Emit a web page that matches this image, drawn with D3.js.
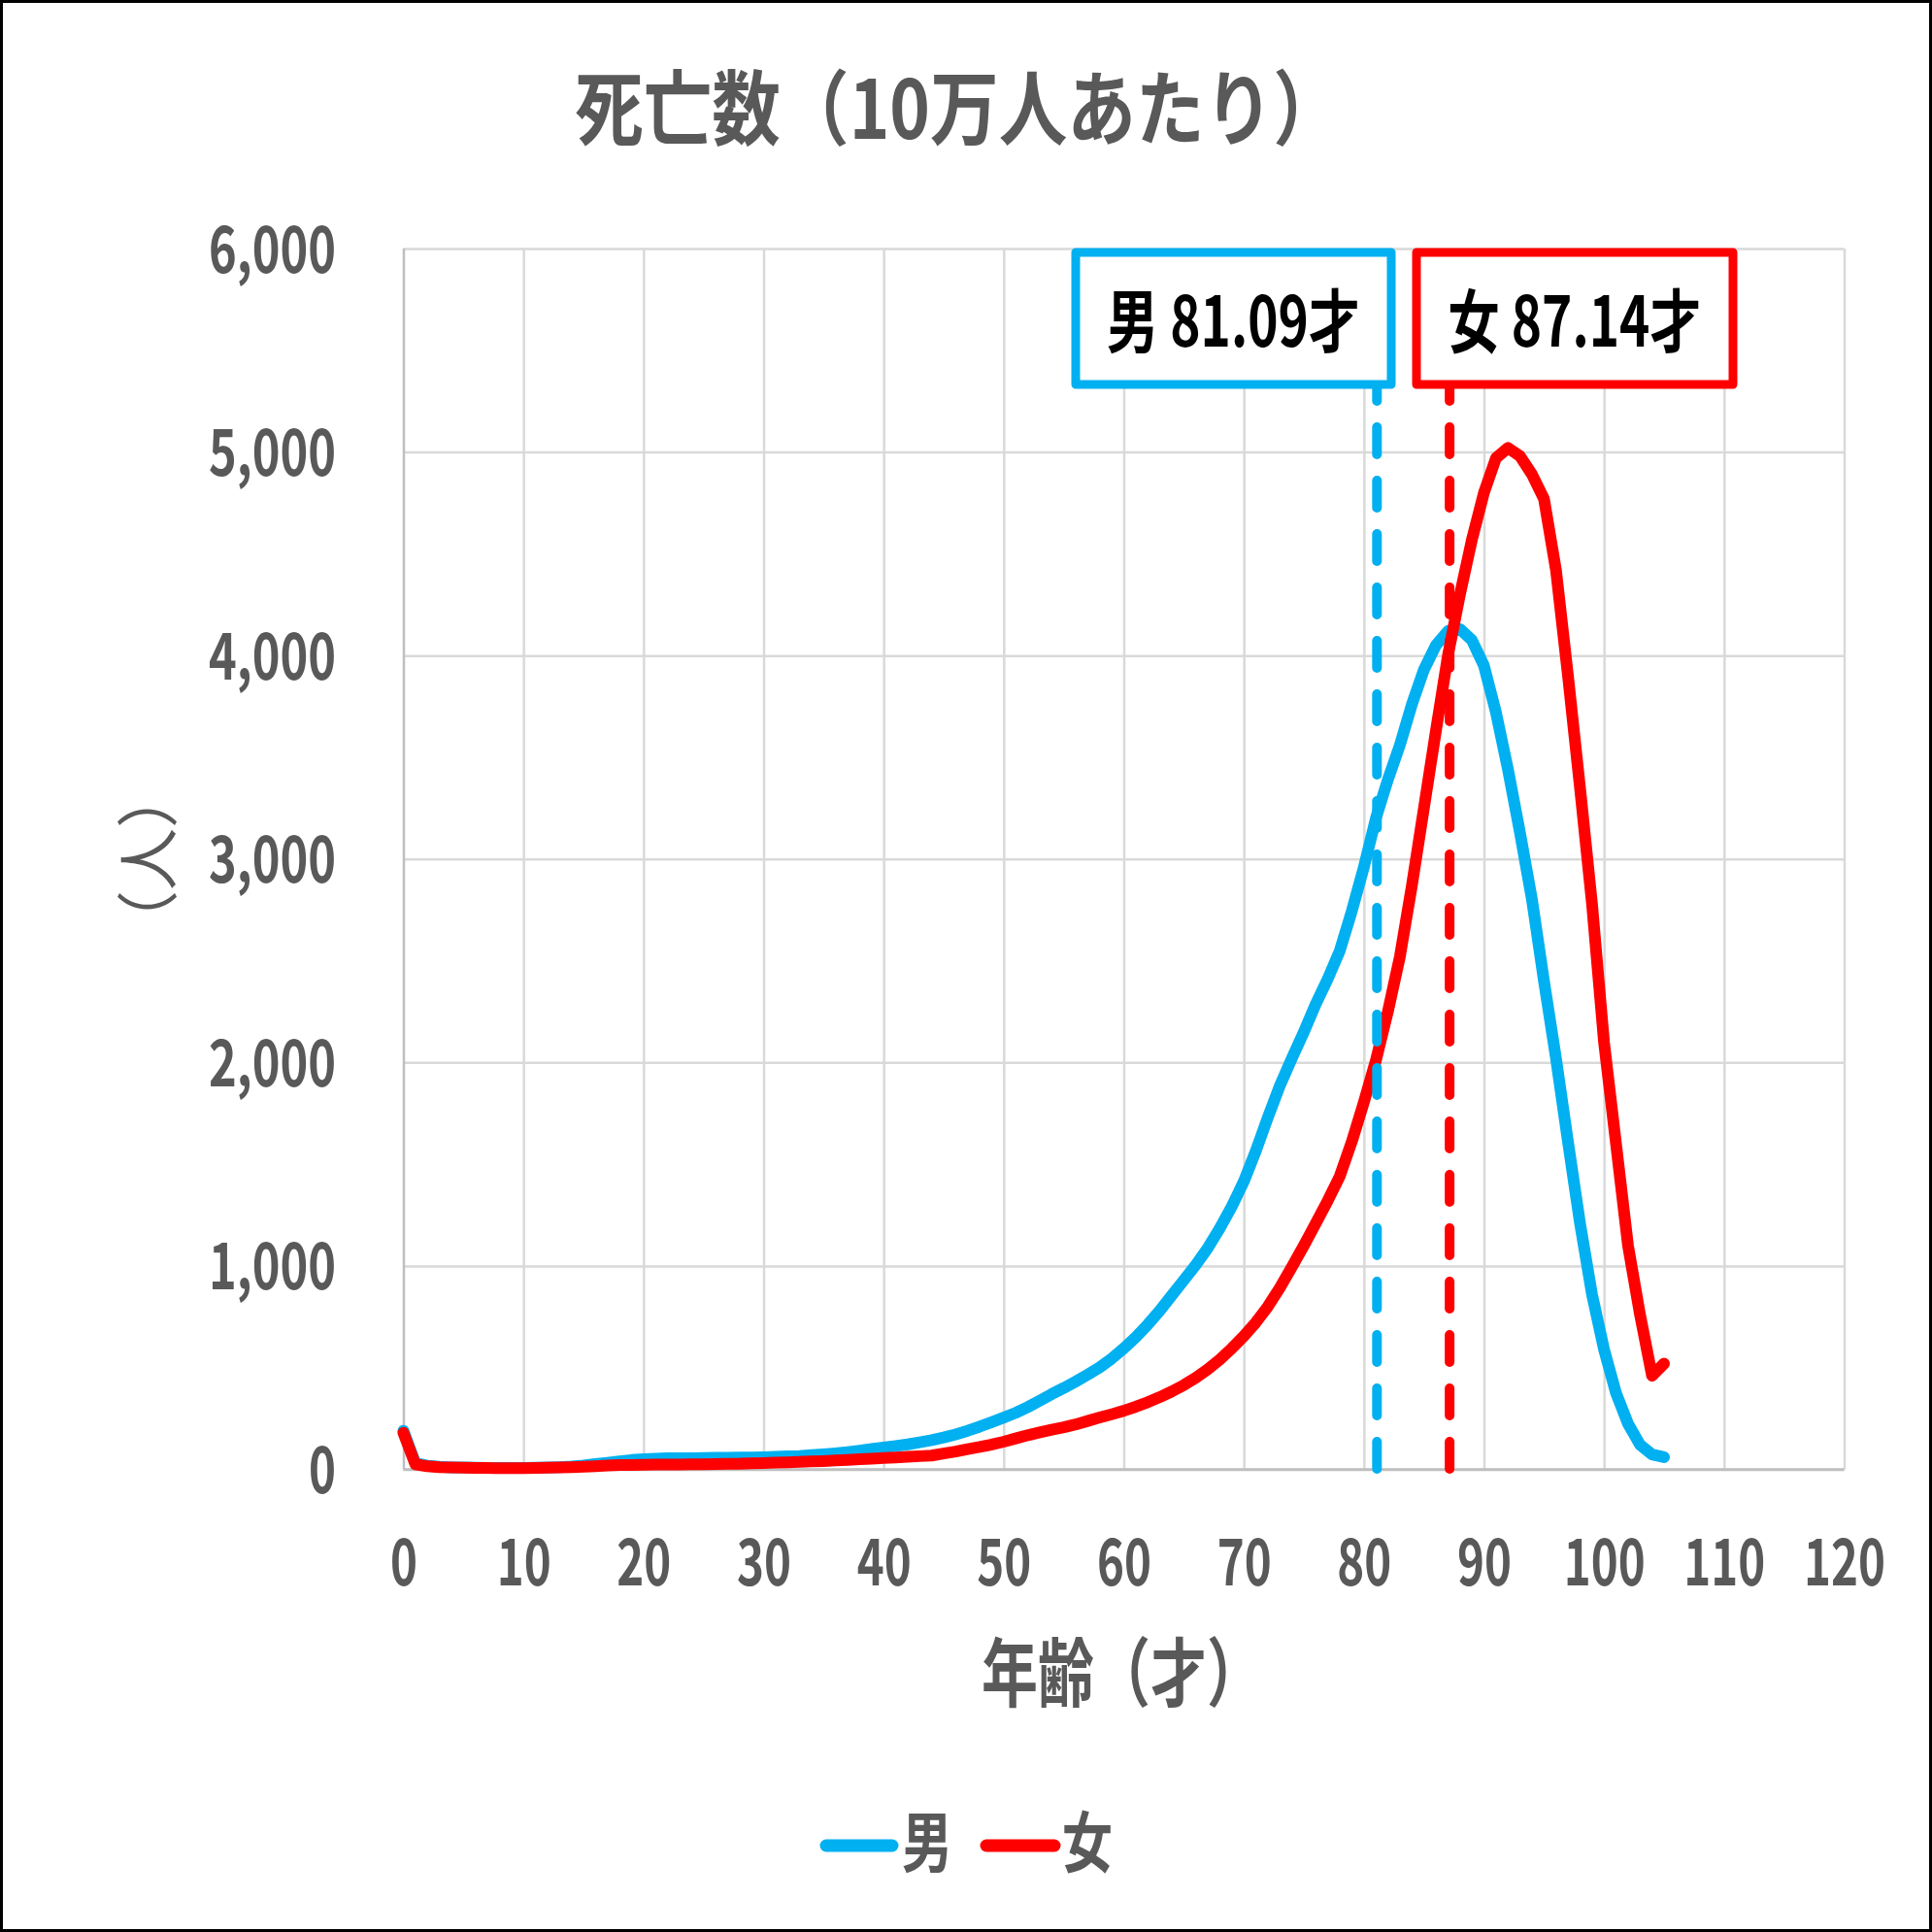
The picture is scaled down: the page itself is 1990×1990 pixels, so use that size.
<!DOCTYPE html>
<html>
<head>
<meta charset="utf-8">
<script src="https://cdn.jsdelivr.net/npm/d3@7/dist/d3.min.js"></script>
<style>
  html, body { margin: 0; padding: 0; background: #fff; }
  svg { display: block; }
  text { font-family: "Noto Sans CJK JP", "Noto Sans", sans-serif; }
</style>
</head>
<body>
<svg id="chart" width="1990" height="1990"></svg>
<script>
// ---------------- data ----------------
const title = "死亡数（10万人あたり）";
const xTitle = "年齢（才）";
const yTitle = "（人）";
const seriesNames = ["男", "女"];
const seriesColors = ["#00B0F0", "#FF0000"];
const ages = d3.range(0, 106);
const male = [
  190, 30, 18, 13, 10, 9, 8, 7, 7, 7,
  7, 8, 9, 11, 14, 19, 26, 33, 40, 46,
  50, 53, 55, 55, 55, 56, 57, 57, 58, 59,
  60, 62, 64, 66, 70, 74, 79, 85, 92, 100,
  107, 115, 123, 133, 144, 157, 172, 190, 210, 232,
  255, 278, 306, 338, 370, 400, 432, 466, 502, 545,
  595, 650, 712, 780, 855, 930, 1005, 1088, 1185, 1292,
  1415, 1565, 1730, 1885, 2020, 2150, 2288, 2412, 2550, 2745,
  2960, 3200, 3390, 3560, 3760, 3930, 4050, 4120, 4130, 4075,
  3950, 3720, 3440, 3130, 2800, 2400, 2020, 1610, 1210, 860,
  590, 375, 224, 121, 73, 60
];
const female = [
  180, 25, 15, 11, 9, 8, 7, 7, 6, 6,
  6, 7, 8, 9, 11, 13, 16, 19, 21, 22,
  23, 24, 24, 24, 25, 25, 26, 27, 28, 30,
  31, 33, 35, 37, 39, 41, 44, 47, 50, 53,
  56, 59, 62, 65, 68, 78, 88, 100, 110, 122,
  136, 152, 168, 182, 195, 207, 221, 238, 255, 271,
  288, 308, 330, 355, 383, 414, 450, 492, 540, 595,
  655, 722, 800, 892, 995, 1100, 1210, 1322, 1442, 1612,
  1805, 2010, 2250, 2520, 2870, 3250, 3630, 4000, 4300, 4570,
  4800, 4970, 5020, 4980, 4890, 4770, 4420, 3900, 3350, 2780,
  2100, 1600, 1100, 760, 460, 520
];
const lifeExpectancy = [81.09, 87.14];
const annotationLabels = ["男 81.09才", "女 87.14才"];
const xTicks = d3.range(0, 121, 10);
const yTicks = [0, 1000, 2000, 3000, 4000, 5000, 6000];

// ---------------- layout ----------------
const W = 1990, H = 1990;
const L = 415.5, R = 1899.5, T = 256, B = 1513.5;
const gray = "#595959";
const svg = d3.select("#chart");

svg.append("rect").attr("x", 0).attr("y", 0).attr("width", W).attr("height", H).attr("fill", "#fff");

const x = d3.scaleLinear().domain([0, 120]).range([L, R]);
const y = d3.scaleLinear().domain([0, 6000]).range([B, T]);

function labelLen(s) {
  const digits = (s.match(/[0-9]/g) || []).length;
  const commas = (s.match(/,/g) || []).length;
  return 28 * digits + 19 * commas;
}

// y axis with gridlines
const yAxis = svg.append("g")
  .attr("transform", `translate(${L},0)`)
  .call(d3.axisLeft(y).tickValues(yTicks).tickFormat(d3.format(",")).tickSize(-(R - L)).tickPadding(69.5));
yAxis.select(".domain").remove();
yAxis.selectAll(".tick line")
  .attr("stroke", d => d === 0 ? "#BFBFBF" : "#D9D9D9")
  .attr("stroke-width", 2.5);
yAxis.selectAll(".tick text")
  .attr("dy", 24)
  .attr("fill", gray)
  .attr("font-size", 66)
  .attr("font-weight", 700)
  .attr("text-anchor", "end")
  .attr("lengthAdjust", "spacingAndGlyphs")
  .attr("textLength", function() { return labelLen(this.textContent); });

// x axis with gridlines
const xAxis = svg.append("g")
  .attr("transform", `translate(0,${B})`)
  .call(d3.axisBottom(x).tickValues(xTicks).tickFormat(d3.format("d")).tickSize(-(B - T)).tickPadding(119.5));
xAxis.select(".domain").remove();
xAxis.selectAll(".tick line")
  .attr("stroke", d => d === 0 ? "#BFBFBF" : "#D9D9D9")
  .attr("stroke-width", 2.5);
xAxis.selectAll(".tick text")
  .attr("dy", 0)
  .attr("fill", gray)
  .attr("font-size", 66)
  .attr("font-weight", 700)
  .attr("text-anchor", "middle")
  .attr("lengthAdjust", "spacingAndGlyphs")
  .attr("textLength", function() { return labelLen(this.textContent); });

// bottom axis line on top of gridlines
svg.append("line").attr("x1", L).attr("x2", R).attr("y1", B).attr("y2", B)
  .attr("stroke", "#BFBFBF").attr("stroke-width", 2.5);

// series lines
const line = d3.line().x((d, i) => x(ages[i])).y(d => y(d));
[male, female].forEach((s, k) => {
  svg.append("path")
    .datum(s)
    .attr("d", line)
    .attr("fill", "none")
    .attr("stroke", seriesColors[k])
    .attr("stroke-width", 12)
    .attr("stroke-linejoin", "round")
    .attr("stroke-linecap", "round");
});

// life expectancy dashed lines
lifeExpectancy.forEach((v, k) => {
  svg.append("line")
    .attr("x1", x(v)).attr("x2", x(v))
    .attr("y1", 385).attr("y2", B)
    .attr("stroke", seriesColors[k])
    .attr("stroke-width", 10)
    .attr("stroke-dasharray", "28 27")
    .attr("stroke-linecap", "round");
});

// annotation boxes
const boxes = [
  { x: 1108, w: 325 },
  { x: 1459, w: 326 }
];
boxes.forEach((b, k) => {
  svg.append("rect")
    .attr("x", b.x).attr("y", 260).attr("width", b.w).attr("height", 136)
    .attr("fill", "#fff")
    .attr("stroke", seriesColors[k])
    .attr("stroke-width", 9)
    .attr("stroke-linejoin", "round");
  svg.append("text")
    .attr("x", b.x + b.w / 2).attr("y", 357)
    .attr("text-anchor", "middle")
    .attr("font-size", 71)
    .attr("font-weight", 700)
    .attr("fill", "#000")
    .attr("lengthAdjust", "spacingAndGlyphs")
    .attr("textLength", 261)
    .text(annotationLabels[k]);
});

// title
svg.append("text")
  .attr("x", 592).attr("y", 143)
  .attr("font-size", 84)
  .attr("font-weight", 700)
  .attr("fill", gray)
  .attr("lengthAdjust", "spacingAndGlyphs")
  .attr("textLength", 790)
  .text(title);

// x axis title
svg.append("text")
  .attr("x", 1011).attr("y", 1752)
  .attr("font-size", 77)
  .attr("font-weight", 700)
  .attr("fill", gray)
  .attr("lengthAdjust", "spacingAndGlyphs")
  .attr("textLength", 290)
  .text(xTitle);

// y axis title (rotated)
svg.append("text")
  .attr("transform", "translate(176,885) rotate(-90)")
  .attr("text-anchor", "middle")
  .attr("font-size", 64)
  .attr("font-weight", 400)
  .attr("fill", gray)
  .text(yTitle);

// legend
const legendItems = [
  { x1: 851, x2: 919, tx: 929 },
  { x1: 1016, x2: 1086, tx: 1094 }
];
legendItems.forEach((it, k) => {
  svg.append("line")
    .attr("x1", it.x1).attr("x2", it.x2).attr("y1", 1901).attr("y2", 1901)
    .attr("stroke", seriesColors[k]).attr("stroke-width", 13).attr("stroke-linecap", "round");
  svg.append("text")
    .attr("x", it.tx).attr("y", 1923)
    .attr("font-size", 68)
    .attr("font-weight", 700)
    .attr("fill", gray)
    .attr("lengthAdjust", "spacingAndGlyphs")
    .attr("textLength", 52)
    .text(seriesNames[k]);
});

// outer border
svg.append("rect").attr("x", 1.5).attr("y", 1.5).attr("width", W - 3).attr("height", H - 3)
  .attr("fill", "none").attr("stroke", "#000").attr("stroke-width", 3);
</script>
</body>
</html>
